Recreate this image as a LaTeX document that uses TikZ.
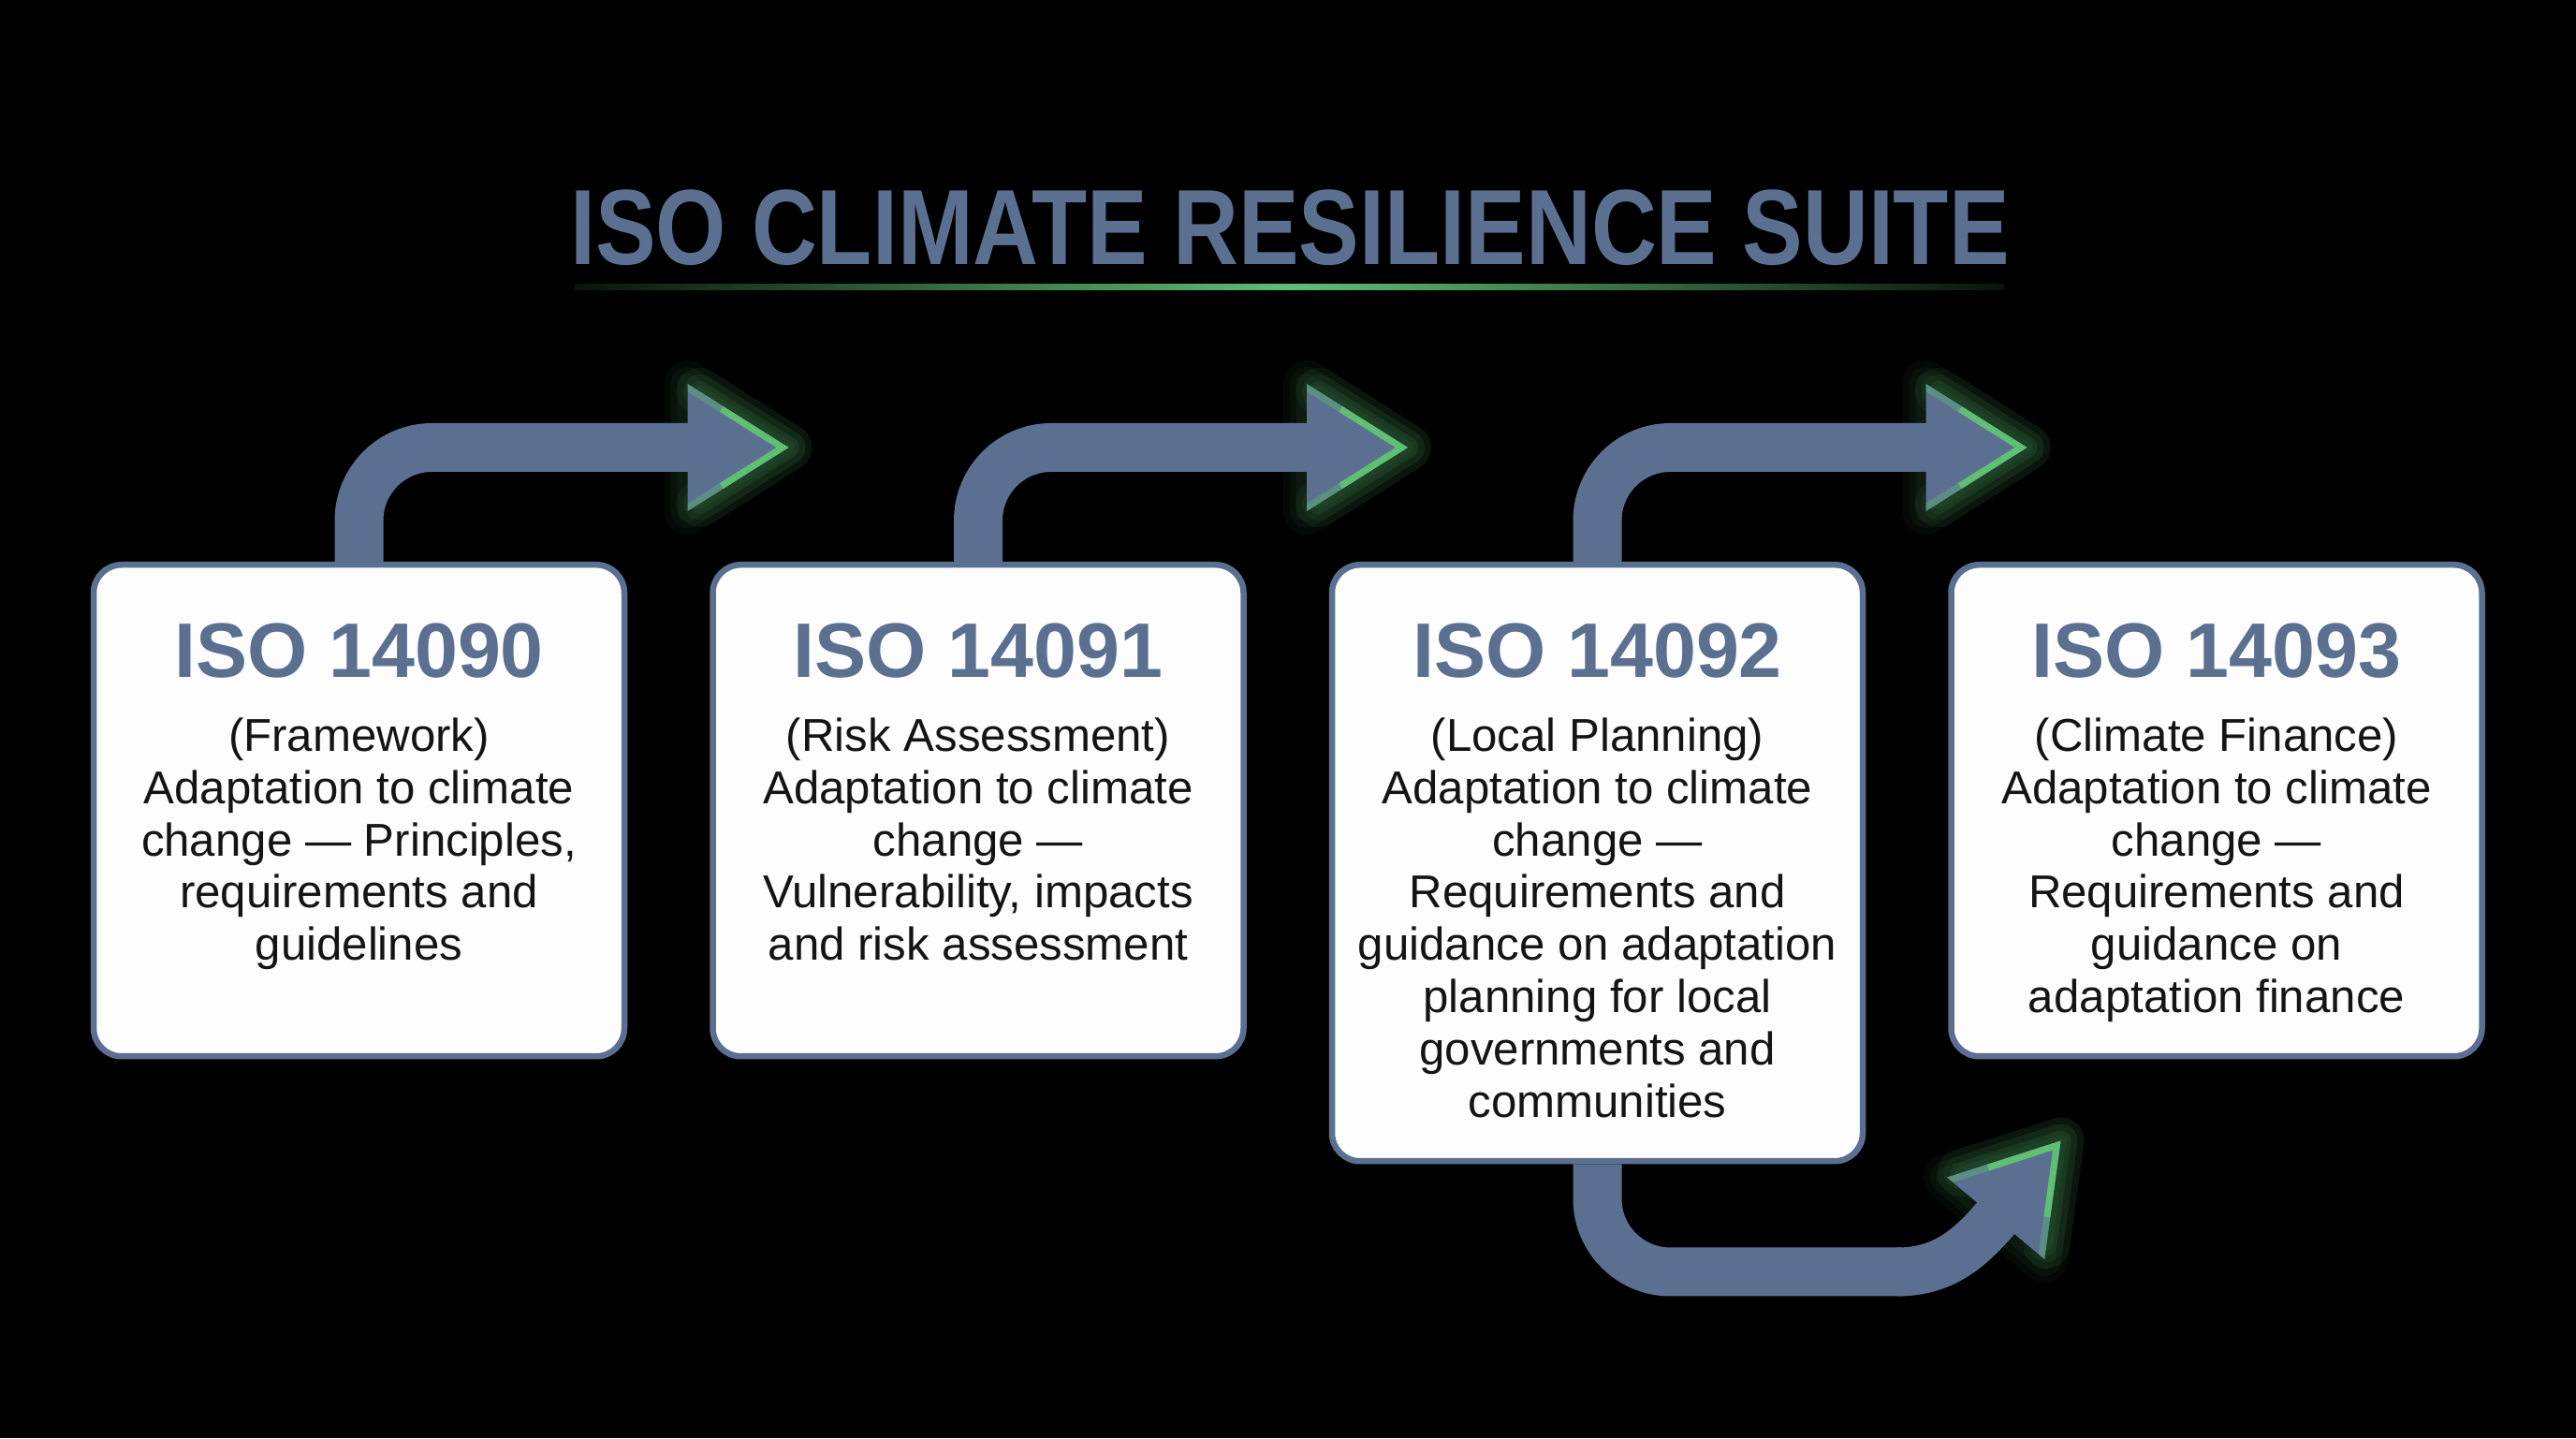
\documentclass[tikz,border=0pt]{standalone}
\usepackage{fontspec}
\usepackage{graphicx}
\setmainfont{Liberation Sans}
\usetikzlibrary{positioning}

\definecolor{slate}{HTML}{5B7090}
\definecolor{glowgreen}{HTML}{5FBF73}
\definecolor{paper}{HTML}{FDFDFE}
\definecolor{ink}{HTML}{141414}

\tikzset{
  card/.style={draw=slate, fill=paper, line width=0.065cm, rounded corners=0.3cm,
    minimum width=5.67cm, minimum height=5.25cm, inner sep=0pt, anchor=north},
  code/.style={text=slate, font=\bfseries\fontsize{23.5}{27}\selectfont, anchor=base, inner sep=0pt},
  blurb/.style={text=ink, font=\fontsize{14}{15.9}\selectfont, align=center, anchor=north, inner sep=0pt},
  flow/.style={draw=slate, line width=0.52cm, rounded corners=0.78cm},
}

% soft green halo behind an arrow head (tip, angle)
\newcommand{\headglow}[2]{%
  \begin{scope}[shift={(#1)}, rotate=#2]
    \foreach \w in {0.5,0.36,0.22}
      \draw[glowgreen, opacity=0.05, line width=\w cm, line join=round]
        (-1.08,0.68) -- (0,0) -- (-1.08,-0.68) -- cycle;
    \foreach \w in {0.5,0.36,0.22,0.12}
      \draw[glowgreen, opacity=0.07, line width=\w cm, line join=round, line cap=round]
        (-0.95,0.6) -- (0,0) -- (-0.95,-0.6);
  \end{scope}}

% the head itself, green rim on the two front edges
\newcommand{\headfill}[2]{%
  \begin{scope}[shift={(#1)}, rotate=#2]
    \fill[slate] (-1.08,0.68) -- (0,0) -- (-1.08,-0.68) -- cycle;
    \begin{scope}
      \clip (-1.08,0.68) -- (0,0) -- (-1.08,-0.68) -- cycle;
      \draw[glowgreen, line width=0.14cm, line join=round] (-0.7,0.44) -- (0,0) -- (-0.7,-0.44);
      \draw[glowgreen, opacity=0.4, line width=0.14cm] (-1.08,0.68) -- (-0.7,0.44) (-1.08,-0.68) -- (-0.7,-0.44);
    \end{scope}
  \end{scope}}

\begin{document}
\begin{tikzpicture}

\fill[black] (0,0) rectangle (27.52,15.36);

% title
\node[text=slate, font=\bfseries\fontsize{32.5}{38}\selectfont, anchor=base, inner sep=0pt] (title)
  at (13.78,12.53) {\scalebox{0.848}[1]{ISO CLIMATE RESILIENCE SUITE}};
\shade[left color=glowgreen!10!black, right color=glowgreen!10!black, middle color=glowgreen]
  (6.14,12.26) rectangle (21.41,12.32);

% standards
\node[card] (b1) at (3.835,9.36) {};
\node[card, right=0.88cm of b1.north east, anchor=north west] (b2) {};
\node[card, right=0.88cm of b2.north east, anchor=north west, minimum height=6.37cm] (b3) {};
\node[card, right=0.88cm of b3.north east, anchor=north west] (b4) {};

\node[code] (h1) at ([yshift=-1.24cm]b1.north) {ISO 14090};
\node[code] (h2) at ([yshift=-1.24cm]b2.north) {ISO 14091};
\node[code] (h3) at ([yshift=-1.24cm]b3.north) {ISO 14092};
\node[code] (h4) at ([yshift=-1.24cm]b4.north) {ISO 14093};

\node[blurb] (t1) at ([yshift=-1.66cm]b1.north) {(Framework)\\Adaptation to climate\\change — Principles,\\requirements and\\guidelines};
\node[blurb] (t2) at ([yshift=-1.66cm]b2.north) {(Risk Assessment)\\Adaptation to climate\\change —\\Vulnerability, impacts\\and risk assessment};
\node[blurb] (t3) at ([yshift=-1.66cm]b3.north) {(Local Planning)\\Adaptation to climate\\change —\\Requirements and\\guidance on adaptation\\planning for local\\governments and\\communities};
\node[blurb] (t4) at ([yshift=-1.66cm]b4.north) {(Climate Finance)\\Adaptation to climate\\change —\\Requirements and\\guidance on\\adaptation finance};

% arrows
\coordinate (tip1) at ([shift={(4.59,1.22)}]b1.north);
\coordinate (tip2) at ([shift={(4.59,1.22)}]b2.north);
\coordinate (tip3) at ([shift={(4.59,1.22)}]b3.north);
\coordinate (tip4) at ([shift={(4.95,0.25)}]b3.south);
\coordinate (bend4) at ([shift={(3.2,-1.15)}]b3.south);

\headglow{tip1}{0}
\headglow{tip2}{0}
\headglow{tip3}{0}
\headglow{tip4}{50}

\draw[flow] (b1.north) |- ([xshift=-1.04cm]tip1);
\draw[flow] (b2.north) |- ([xshift=-1.04cm]tip2);
\draw[flow] (b3.north) |- ([xshift=-1.04cm]tip3);
\draw[flow] (b3.south) |- ([xshift=0.05cm]bend4);
\draw[flow] (bend4) to[out=0,in=230] ([shift={(230:1.04)}]tip4);

\headfill{tip1}{0}
\headfill{tip2}{0}
\headfill{tip3}{0}
\headfill{tip4}{50}

\end{tikzpicture}
\end{document}
